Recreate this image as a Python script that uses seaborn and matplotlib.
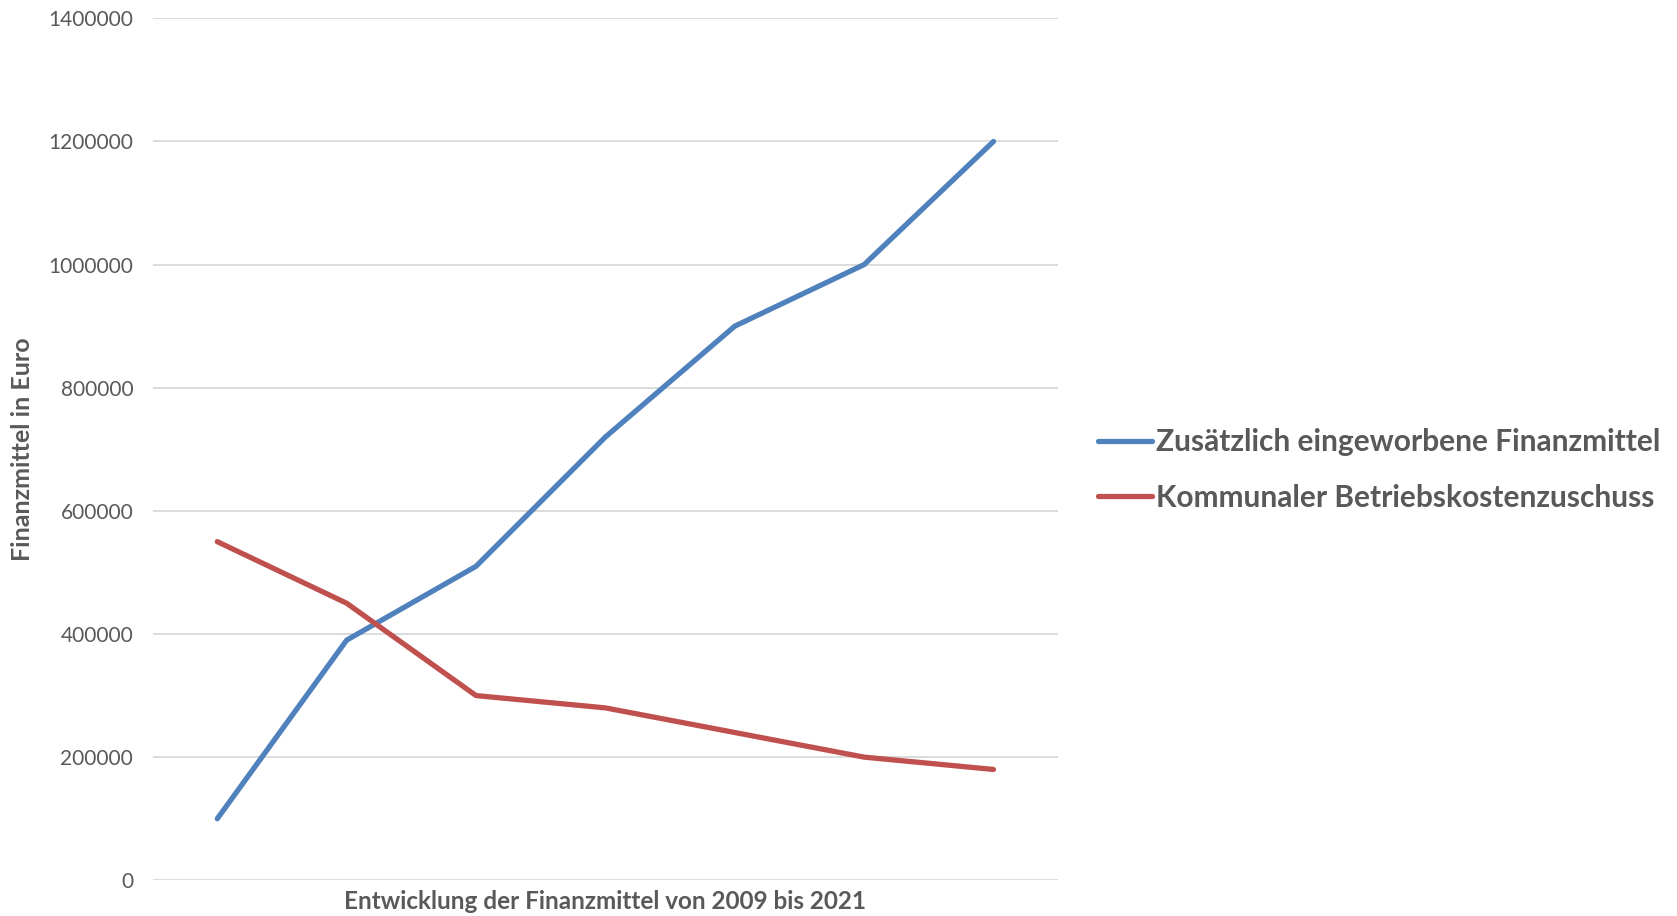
import matplotlib
matplotlib.use("Agg")
import matplotlib.pyplot as plt
import seaborn as sns
import pandas as pd
from matplotlib.lines import Line2D

points = ["1", "2", "3", "4", "5", "6", "7"]
zusaetzlich = [100000, 390000, 510000, 720000, 900000, 1000000, 1200000]
kommunal = [550000, 450000, 300000, 280000, 240000, 200000, 180000]
series_names = ["Zusätzlich eingeworbene Finanzmittel", "Kommunaler Betriebskostenzuschuss"]
yticks = [0, 200000, 400000, 600000, 800000, 1000000, 1200000, 1400000]

sns.set_theme(style="white")
plt.rcParams['font.family'] = ['Lato', 'DejaVu Sans']

df = pd.DataFrame({
    "x": list(range(len(points))) * 2,
    "value": zusaetzlich + kommunal,
    "series": [series_names[0]] * len(points) + [series_names[1]] * len(points),
})

fig = plt.figure(figsize=(16.77, 9.16), dpi=100)
ax = fig.add_axes([0.091, 0.039, 0.540, 0.941])
sns.lineplot(data=df, x="x", y="value", hue="series", palette=["#4F81BD", "#C0504D"],
             linewidth=3.8, ax=ax, legend=False, solid_capstyle="round")
ax.set_xlim(-0.5, len(points) - 0.5)
ax.set_ylim(0, 1400000)
ax.set_yticks(yticks)
ax.set_yticklabels([str(v) for v in yticks], fontsize=15, color="#595959")
ax.set_xticks([])
ax.grid(axis="y", color="#D9D9D9", linewidth=1.3)
ax.set_axisbelow(True)
for s in ax.spines.values():
    s.set_visible(False)
ax.tick_params(axis="y", length=0, pad=14)
ax.set_xlabel("Entwicklung der Finanzmittel von 2009 bis 2021", fontsize=17.5, fontweight="bold",
              color="#595959", labelpad=7)
ax.set_ylabel("Finanzmittel in Euro", fontsize=18, fontweight="bold", color="#595959", labelpad=10)

handles = [Line2D([0], [0], color="#4F81BD", lw=3.8), Line2D([0], [0], color="#C0504D", lw=3.8)]
leg = fig.legend(handles, series_names, loc="center left", bbox_to_anchor=(0.639, 0.487),
                 frameon=False, fontsize=21.5, handlelength=1.78, handletextpad=0.15, labelspacing=0.92)
for t in leg.get_texts():
    t.set_fontweight("bold")
    t.set_color("#595959")

fig.savefig("out.png", dpi=100)
